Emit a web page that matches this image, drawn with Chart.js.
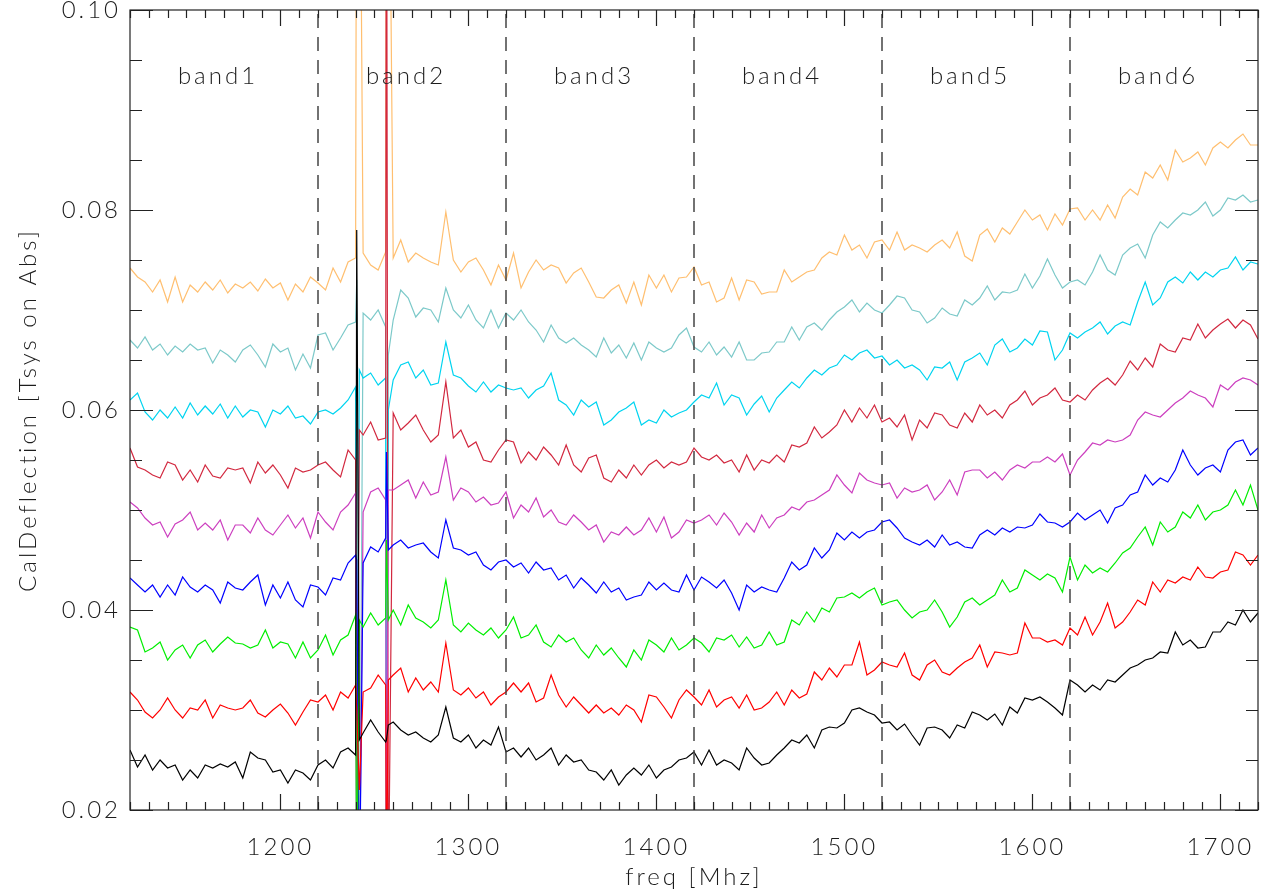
<!DOCTYPE html>
<html>
<head>
<meta charset="utf-8">
<script src="https://cdn.jsdelivr.net/npm/chart.js@4/dist/chart.umd.min.js"></script>
<style>
  html, body { margin: 0; padding: 0; background: #fff; }
  #wrap { width: 1267px; height: 896px; }
</style>
</head>
<body>
<div id="wrap"><canvas id="chart" width="1267" height="896"></canvas></div>
<script>
// frequency grid: 1120..1720 MHz every 4 MHz (151 channels)
const freq = [];
for (let f = 1120; f <= 1720; f += 4) freq.push(f);

// extra channels around the two RFI spikes in band2
const spikeFreq = [1240.6, 1242.0, 1256.4, 1257.4];

const bandEdges = [1220, 1320, 1420, 1520, 1620];
const bandNames = ['band1', 'band2', 'band3', 'band4', 'band5', 'band6'];
const bandLabelAt = [1166, 1266, 1366, 1466, 1566, 1666];

const xTicks = [1200, 1300, 1400, 1500, 1600, 1700];
const yTicks = [0.02, 0.04, 0.06, 0.08, 0.10];

const orange = [
  0.0742,0.0733,0.0728,0.0718,0.0730,0.0708,0.0733,0.0708,0.0725,0.0718,0.0728,0.0720,0.0730,0.0717,0.0726,0.0722,0.0728,0.0719,0.0731,0.0722,0.0727,0.0710,0.0726,0.0718,0.0733,
  0.0727,0.0720,0.0742,0.0728,0.0748,0.0752,0.0757,0.0745,0.0740,0.0758,0.0752,0.0770,0.0748,0.0757,0.0752,0.0748,0.0745,0.0798,0.0750,0.0738,0.0748,0.0752,0.0740,0.0725,0.0745,
  0.0730,0.0757,0.0722,0.0738,0.0750,0.0740,0.0745,0.0742,0.0727,0.0737,0.0742,0.0728,0.0713,0.0712,0.0720,0.0725,0.0707,0.0728,0.0705,0.0735,0.0722,0.0735,0.0718,0.0732,0.0733,
  0.0743,0.0725,0.0728,0.0708,0.0712,0.0732,0.0710,0.0730,0.0728,0.0716,0.0718,0.0718,0.0740,0.0728,0.0733,0.0738,0.0740,0.0752,0.0758,0.0755,0.0775,0.0760,0.0765,0.0752,0.0768,
  0.0770,0.0760,0.0778,0.0760,0.0765,0.0762,0.0758,0.0765,0.0770,0.0762,0.0778,0.0754,0.0749,0.0775,0.0781,0.0768,0.0782,0.0776,0.0788,0.0800,0.0790,0.0795,0.0780,0.0796,0.0785,
  0.0801,0.0802,0.0790,0.0800,0.0790,0.0805,0.0792,0.0813,0.0821,0.0815,0.0838,0.0832,0.0845,0.0830,0.0860,0.0848,0.0852,0.0858,0.0845,0.0862,0.0868,0.0862,0.0870,0.0876,0.0865,0.0865
];
const teal = [
  0.0670,0.0662,0.0673,0.0660,0.0666,0.0655,0.0664,0.0658,0.0666,0.0660,0.0662,0.0647,0.0660,0.0655,0.0648,0.0660,0.0665,0.0655,0.0643,0.0666,0.0658,0.0662,0.0640,0.0656,0.0642,
  0.0675,0.0677,0.0660,0.0672,0.0685,0.0688,0.0697,0.0690,0.0700,0.0683,0.0690,0.0720,0.0712,0.0693,0.0702,0.0700,0.0688,0.0722,0.0700,0.0692,0.0705,0.0690,0.0682,0.0700,0.0682,
  0.0697,0.0690,0.0700,0.0688,0.0680,0.0668,0.0685,0.0672,0.0667,0.0672,0.0665,0.0660,0.0653,0.0672,0.0657,0.0665,0.0652,0.0667,0.0650,0.0668,0.0662,0.0658,0.0662,0.0675,0.0682,
  0.0663,0.0658,0.0668,0.0655,0.0663,0.0653,0.0668,0.0650,0.0650,0.0657,0.0658,0.0668,0.0668,0.0683,0.0670,0.0683,0.0687,0.0680,0.0690,0.0698,0.0703,0.0710,0.0698,0.0707,0.0700,
  0.0697,0.0705,0.0714,0.0712,0.0700,0.0698,0.0687,0.0692,0.0702,0.0696,0.0694,0.0710,0.0705,0.0712,0.0724,0.0710,0.0718,0.0717,0.0720,0.0736,0.0722,0.0734,0.0751,0.0735,0.0722,
  0.0728,0.0730,0.0725,0.0738,0.0755,0.0740,0.0735,0.0755,0.0762,0.0766,0.0752,0.0775,0.0788,0.0782,0.0790,0.0797,0.0795,0.0800,0.0808,0.0794,0.0800,0.0812,0.0810,0.0815,0.0808,0.0810
];
const cyan = [
  0.0610,0.0617,0.0598,0.0590,0.0600,0.0592,0.0603,0.0592,0.0607,0.0595,0.0604,0.0596,0.0606,0.0592,0.0604,0.0593,0.0600,0.0598,0.0583,0.0600,0.0596,0.0604,0.0592,0.0594,0.0586,
  0.0598,0.0600,0.0596,0.0602,0.0610,0.0623,0.0632,0.0637,0.0625,0.0632,0.0630,0.0645,0.0648,0.0632,0.0640,0.0625,0.0627,0.0668,0.0635,0.0632,0.0624,0.0618,0.0628,0.0618,0.0625,
  0.0622,0.0620,0.0622,0.0612,0.0620,0.0624,0.0637,0.0610,0.0605,0.0595,0.0610,0.0603,0.0608,0.0585,0.0590,0.0598,0.0602,0.0608,0.0585,0.0590,0.0587,0.0600,0.0593,0.0597,0.0600,
  0.0608,0.0615,0.0612,0.0627,0.0605,0.0615,0.0612,0.0595,0.0606,0.0614,0.0598,0.0612,0.0620,0.0628,0.0622,0.0632,0.0640,0.0635,0.0642,0.0645,0.0655,0.0650,0.0657,0.0660,0.0652,
  0.0654,0.0645,0.0650,0.0642,0.0645,0.0640,0.0630,0.0643,0.0642,0.0648,0.0630,0.0648,0.0652,0.0657,0.0645,0.0665,0.0671,0.0658,0.0662,0.0671,0.0665,0.0679,0.0678,0.0650,0.0660,
  0.0677,0.0672,0.0678,0.0682,0.0688,0.0676,0.0684,0.0688,0.0685,0.0708,0.0728,0.0705,0.0712,0.0728,0.0733,0.0727,0.0738,0.0730,0.0738,0.0733,0.0740,0.0742,0.0753,0.0740,0.0748,0.0746
];
const crimson = [
  0.0562,0.0543,0.0540,0.0535,0.0532,0.0548,0.0545,0.0530,0.0540,0.0528,0.0545,0.0534,0.0532,0.0542,0.0540,0.0542,0.0527,0.0548,0.0537,0.0545,0.0535,0.0522,0.0542,0.0538,0.0540,
  0.0545,0.0548,0.0540,0.0533,0.0560,0.0550,0.0575,0.0588,0.0570,0.0572,0.0597,0.0580,0.0587,0.0595,0.0580,0.0568,0.0575,0.0628,0.0572,0.0580,0.0563,0.0568,0.0550,0.0548,0.0560,
  0.0570,0.0568,0.0547,0.0558,0.0550,0.0563,0.0555,0.0545,0.0565,0.0545,0.0538,0.0552,0.0555,0.0532,0.0528,0.0540,0.0532,0.0545,0.0535,0.0545,0.0550,0.0542,0.0548,0.0545,0.0548,
  0.0562,0.0553,0.0550,0.0555,0.0547,0.0550,0.0538,0.0555,0.0540,0.0550,0.0547,0.0555,0.0548,0.0565,0.0563,0.0567,0.0583,0.0572,0.0578,0.0585,0.0600,0.0588,0.0602,0.0592,0.0605,
  0.0588,0.0592,0.0583,0.0595,0.0570,0.0590,0.0582,0.0597,0.0595,0.0585,0.0582,0.0597,0.0588,0.0605,0.0595,0.0600,0.0592,0.0605,0.0610,0.0619,0.0605,0.0612,0.0615,0.0622,0.0610,
  0.0608,0.0615,0.0610,0.0620,0.0627,0.0632,0.0625,0.0635,0.0649,0.0640,0.0652,0.0643,0.0666,0.0660,0.0658,0.0672,0.0670,0.0686,0.0672,0.0680,0.0686,0.0691,0.0682,0.0690,0.0685,0.0671
];
const magenta = [
  0.0508,0.0502,0.0492,0.0485,0.0488,0.0473,0.0486,0.0490,0.0498,0.0480,0.0487,0.0480,0.0490,0.0470,0.0485,0.0485,0.0477,0.0492,0.0480,0.0475,0.0485,0.0495,0.0482,0.0492,0.0472,
  0.0498,0.0488,0.0480,0.0498,0.0505,0.0517,0.0498,0.0518,0.0522,0.0510,0.0520,0.0525,0.0530,0.0512,0.0528,0.0515,0.0518,0.0553,0.0510,0.0522,0.0518,0.0508,0.0513,0.0505,0.0507,
  0.0518,0.0492,0.0505,0.0498,0.0512,0.0493,0.0500,0.0488,0.0485,0.0495,0.0488,0.0480,0.0485,0.0468,0.0478,0.0475,0.0483,0.0475,0.0480,0.0492,0.0478,0.0493,0.0472,0.0478,0.0490,
  0.0487,0.0490,0.0495,0.0485,0.0497,0.0488,0.0475,0.0487,0.0478,0.0495,0.0482,0.0492,0.0495,0.0503,0.0500,0.0508,0.0510,0.0515,0.0520,0.0535,0.0525,0.0517,0.0537,0.0530,0.0527,
  0.0525,0.0527,0.0512,0.0522,0.0518,0.0520,0.0525,0.0510,0.0518,0.0530,0.0515,0.0538,0.0540,0.0540,0.0532,0.0538,0.0530,0.0540,0.0545,0.0542,0.0548,0.0548,0.0553,0.0548,0.0556,
  0.0535,0.0550,0.0558,0.0567,0.0565,0.0570,0.0568,0.0570,0.0575,0.0590,0.0598,0.0595,0.0593,0.0600,0.0607,0.0612,0.0619,0.0615,0.0612,0.0603,0.0625,0.0620,0.0628,0.0632,0.0630,0.0625
];
const blue = [
  0.0432,0.0425,0.0418,0.0425,0.0413,0.0425,0.0415,0.0433,0.0423,0.0418,0.0425,0.0420,0.0407,0.0428,0.0422,0.0420,0.0428,0.0435,0.0405,0.0425,0.0412,0.0428,0.0410,0.0403,0.0425,
  0.0423,0.0415,0.0432,0.0430,0.0447,0.0455,0.0447,0.0463,0.0458,0.0472,0.0465,0.0470,0.0462,0.0465,0.0467,0.0458,0.0452,0.0490,0.0462,0.0460,0.0455,0.0458,0.0445,0.0440,0.0448,
  0.0450,0.0443,0.0447,0.0437,0.0448,0.0440,0.0442,0.0430,0.0435,0.0422,0.0432,0.0425,0.0417,0.0428,0.0418,0.0422,0.0410,0.0413,0.0415,0.0428,0.0420,0.0427,0.0420,0.0418,0.0435,
  0.0420,0.0433,0.0428,0.0422,0.0430,0.0417,0.0400,0.0425,0.0418,0.0423,0.0420,0.0418,0.0432,0.0448,0.0440,0.0445,0.0462,0.0452,0.0460,0.0477,0.0470,0.0478,0.0472,0.0478,0.0480,
  0.0488,0.0490,0.0482,0.0472,0.0468,0.0465,0.0470,0.0463,0.0475,0.0465,0.0468,0.0463,0.0462,0.0475,0.0480,0.0475,0.0482,0.0478,0.0483,0.0482,0.0485,0.0496,0.0488,0.0487,0.0483,
  0.0488,0.0497,0.0490,0.0495,0.0500,0.0487,0.0502,0.0505,0.0515,0.0518,0.0535,0.0525,0.0532,0.0528,0.0540,0.0560,0.0545,0.0535,0.0542,0.0545,0.0538,0.0560,0.0568,0.0570,0.0555,0.0562
];
const green = [
  0.0383,0.0380,0.0358,0.0362,0.0368,0.0350,0.0360,0.0365,0.0352,0.0365,0.0370,0.0358,0.0366,0.0373,0.0367,0.0366,0.0362,0.0365,0.0380,0.0362,0.0368,0.0366,0.0352,0.0368,0.0352,
  0.0360,0.0375,0.0355,0.0370,0.0375,0.0395,0.0383,0.0397,0.0385,0.0392,0.0400,0.0385,0.0405,0.0392,0.0388,0.0382,0.0390,0.0430,0.0385,0.0378,0.0387,0.0380,0.0375,0.0382,0.0372,
  0.0380,0.0393,0.0372,0.0375,0.0385,0.0368,0.0363,0.0375,0.0368,0.0372,0.0360,0.0352,0.0365,0.0355,0.0362,0.0352,0.0343,0.0360,0.0350,0.0370,0.0365,0.0358,0.0372,0.0360,0.0365,
  0.0372,0.0367,0.0358,0.0372,0.0370,0.0375,0.0363,0.0373,0.0362,0.0365,0.0378,0.0365,0.0368,0.0390,0.0385,0.0398,0.0388,0.0402,0.0398,0.0412,0.0413,0.0417,0.0412,0.0418,0.0422,
  0.0405,0.0408,0.0410,0.0400,0.0392,0.0398,0.0400,0.0410,0.0398,0.0383,0.0393,0.0408,0.0412,0.0405,0.0410,0.0415,0.0430,0.0418,0.0422,0.0440,0.0435,0.0430,0.0436,0.0432,0.0418,
  0.0453,0.0430,0.0445,0.0437,0.0442,0.0438,0.0447,0.0457,0.0462,0.0473,0.0483,0.0465,0.0488,0.0478,0.0483,0.0498,0.0492,0.0505,0.0490,0.0498,0.0500,0.0505,0.0520,0.0505,0.0525,0.0500
];
const red = [
  0.0318,0.0310,0.0298,0.0292,0.0300,0.0312,0.0300,0.0292,0.0302,0.0300,0.0310,0.0292,0.0305,0.0302,0.0300,0.0302,0.0310,0.0297,0.0293,0.0300,0.0306,0.0297,0.0285,0.0298,0.0310,
  0.0308,0.0315,0.0300,0.0318,0.0312,0.0325,0.0318,0.0322,0.0335,0.0325,0.0335,0.0342,0.0318,0.0332,0.0320,0.0328,0.0318,0.0367,0.0320,0.0315,0.0322,0.0312,0.0318,0.0305,0.0313,
  0.0318,0.0327,0.0318,0.0327,0.0308,0.0312,0.0335,0.0315,0.0303,0.0313,0.0305,0.0297,0.0305,0.0297,0.0302,0.0295,0.0305,0.0300,0.0288,0.0315,0.0313,0.0303,0.0292,0.0310,0.0320,
  0.0313,0.0305,0.0320,0.0303,0.0310,0.0313,0.0302,0.0315,0.0300,0.0302,0.0308,0.0318,0.0305,0.0320,0.0312,0.0316,0.0338,0.0330,0.0342,0.0333,0.0345,0.0345,0.0368,0.0335,0.0340,
  0.0348,0.0345,0.0343,0.0357,0.0335,0.0330,0.0345,0.0350,0.0338,0.0335,0.0342,0.0348,0.0352,0.0365,0.0343,0.0358,0.0357,0.0355,0.0357,0.0387,0.0372,0.0372,0.0368,0.0370,0.0365,
  0.0382,0.0375,0.0393,0.0375,0.0388,0.0407,0.0382,0.0388,0.0398,0.0410,0.0405,0.0428,0.0418,0.0430,0.0427,0.0433,0.0430,0.0443,0.0433,0.0432,0.0438,0.0440,0.0458,0.0455,0.0445,0.0455
];
const black = [
  0.0260,0.0243,0.0255,0.0240,0.0250,0.0242,0.0245,0.0230,0.0240,0.0232,0.0245,0.0242,0.0246,0.0243,0.0248,0.0232,0.0258,0.0252,0.0250,0.0238,0.0240,0.0227,0.0240,0.0237,0.0230,
  0.0245,0.0250,0.0242,0.0258,0.0262,0.0255,0.0277,0.0290,0.0278,0.0268,0.0288,0.0280,0.0275,0.0278,0.0272,0.0268,0.0275,0.0303,0.0272,0.0268,0.0275,0.0262,0.0270,0.0265,0.0283,
  0.0258,0.0262,0.0253,0.0262,0.0250,0.0255,0.0262,0.0245,0.0255,0.0248,0.0250,0.0240,0.0238,0.0230,0.0240,0.0225,0.0235,0.0242,0.0235,0.0245,0.0232,0.0240,0.0243,0.0250,0.0252,
  0.0258,0.0245,0.0260,0.0245,0.0250,0.0247,0.0240,0.0262,0.0252,0.0245,0.0247,0.0255,0.0262,0.0270,0.0267,0.0275,0.0262,0.0280,0.0283,0.0282,0.0287,0.0300,0.0302,0.0298,0.0295,
  0.0287,0.0288,0.0280,0.0286,0.0275,0.0265,0.0282,0.0283,0.0280,0.0272,0.0285,0.0282,0.0298,0.0295,0.0290,0.0296,0.0285,0.0303,0.0297,0.0312,0.0310,0.0313,0.0308,0.0302,0.0295,
  0.0330,0.0325,0.0318,0.0325,0.0320,0.0330,0.0328,0.0335,0.0342,0.0345,0.0350,0.0352,0.0358,0.0357,0.0378,0.0365,0.0370,0.0362,0.0363,0.0378,0.0378,0.0388,0.0385,0.0400,0.0388,0.0397
];

// values at spikeFreq (values off the plot are clipped at the frame)
const orangeSpike  = [0.1300, 0.1300, 0.1300, 0.1300];
const tealSpike    = [0.0730, 0.0100, 0.0100, 0.0655];
const cyanSpike    = [0.0100, 0.0640, 0.0100, 0.0600];
const crimsonSpike = [0.0100, 0.0580, 0.1300, 0.0100];
const magentaSpike = [0.0100, 0.0100, 0.0100, 0.0520];
const blueSpike    = [0.0450, 0.0100, 0.0558, 0.0460];
const greenSpike   = [0.0100, 0.0390, 0.0470, 0.0390];
const redSpike     = [0.0300, 0.0220, 0.0100, 0.0330];
const blackSpike   = [0.0780, 0.0270, 0.0270, 0.0285];

const series = [
  { vals: black,   spike: blackSpike,   color: '#000000' },
  { vals: red,     spike: redSpike,     color: '#ff0000' },
  { vals: green,   spike: greenSpike,   color: '#00ee00' },
  { vals: blue,    spike: blueSpike,    color: '#0000ff' },
  { vals: magenta, spike: magentaSpike, color: '#cc3fbf' },
  { vals: crimson, spike: crimsonSpike, color: '#d2283f' },
  { vals: cyan,    spike: cyanSpike,    color: '#00d4f0' },
  { vals: teal,    spike: tealSpike,    color: '#7cc9c9' },
  { vals: orange,  spike: orangeSpike,  color: '#ffbf70' }
];

function points(s) {
  const pts = freq.map((f, i) => ({ x: f, y: s.vals[i] }));
  spikeFreq.forEach((f, j) => pts.push({ x: f, y: s.spike[j] }));
  return pts.sort((a, b) => a.x - b.x);
}

const lineSets = series.map(s => ({
  data: points(s),
  borderColor: s.color,
  borderWidth: 1.2,
  pointRadius: 0,
  tension: 0,
  clip: 0
}));

const edgeSets = bandEdges.map(e => ({
  data: [{ x: e, y: 0.02 }, { x: e, y: 0.10 }],
  borderColor: '#444',
  borderWidth: 1.5,
  borderDash: [14, 9],
  pointRadius: 0
}));

const FONT = 'Lato, "Open Sans", sans-serif';
const TEXT = '#1c1c1c';

const spacing = {
  id: 'spacing',
  beforeDraw(chart) { chart.ctx.letterSpacing = '3px'; }
};

const frame = {
  id: 'frame',
  afterDatasetsDraw(chart) {
    const { ctx, chartArea: a, scales: { x, y } } = chart;
    ctx.save();
    ctx.strokeStyle = '#222';
    ctx.lineWidth = 1.2;
    ctx.beginPath();
    for (let f = 1120; f <= 1720; f += 10) {
      const px = Math.round(x.getPixelForValue(f)) + 0.5;
      const len = f % 100 === 0 ? 16 : 8;
      ctx.moveTo(px, a.bottom); ctx.lineTo(px, a.bottom - len);
      ctx.moveTo(px, a.top); ctx.lineTo(px, a.top + len);
    }
    for (let k = 0; k <= 16; k++) {
      const v = 0.02 + k * 0.005;
      const py = Math.round(y.getPixelForValue(v)) + 0.5;
      const len = k % 4 === 0 ? 23 : 12;
      ctx.moveTo(a.left, py); ctx.lineTo(a.left + len, py);
      ctx.moveTo(a.right, py); ctx.lineTo(a.right - len, py);
    }
    ctx.stroke();
    ctx.strokeRect(a.left, a.top, a.right - a.left, a.bottom - a.top);

    ctx.fillStyle = TEXT;
    ctx.font = '300 24px ' + FONT;
    ctx.letterSpacing = '3px';
    ctx.textAlign = 'center';
    ctx.textBaseline = 'alphabetic';
    const ly = y.getPixelForValue(0.0926);
    bandNames.forEach((n, i) => ctx.fillText(n, x.getPixelForValue(bandLabelAt[i]) + 1.5, ly));
    ctx.restore();
  }
};

new Chart(document.getElementById('chart'), {
  type: 'line',
  data: { datasets: [...edgeSets, ...lineSets] },
  options: {
    responsive: false,
    animation: false,
    layout: { padding: { left: 0, right: 9, top: 10, bottom: 0 } },
    plugins: { legend: { display: false }, tooltip: { enabled: false } },
    scales: {
      x: {
        type: 'linear',
        min: 1120,
        max: 1720,
        grid: { display: false, drawTicks: false },
        border: { display: false },
        afterBuildTicks: s => { s.ticks = xTicks.map(v => ({ value: v })); },
        afterFit: s => { s.height = 86; s.paddingLeft = 0; s.paddingRight = 0; },
        ticks: {
          padding: 23,
          color: TEXT,
          maxRotation: 0,
          autoSkip: false,
          font: { family: FONT, size: 24, weight: 300 },
          callback: v => String(v)
        },
        title: {
          display: true,
          text: 'freq [Mhz]',
          color: TEXT,
          font: { family: FONT, size: 24, weight: 300 },
          padding: { top: 0, bottom: 4 }
        }
      },
      y: {
        type: 'linear',
        min: 0.02,
        max: 0.10,
        grid: { display: false, drawTicks: false },
        border: { display: false },
        afterBuildTicks: s => { s.ticks = yTicks.map(v => ({ value: v })); },
        afterFit: s => { s.width = 130; s.paddingTop = 0; s.paddingBottom = 0; },
        ticks: {
          padding: 9,
          color: TEXT,
          font: { family: FONT, size: 24, weight: 300 },
          callback: v => v.toFixed(2)
        },
        title: {
          display: true,
          text: 'CalDeflection [Tsys on Abs]',
          color: TEXT,
          font: { family: FONT, size: 24, weight: 300 },
          padding: { top: 14, bottom: 0 }
        }
      }
    }
  },
  plugins: [spacing, frame]
});
</script>
</body>
</html>
